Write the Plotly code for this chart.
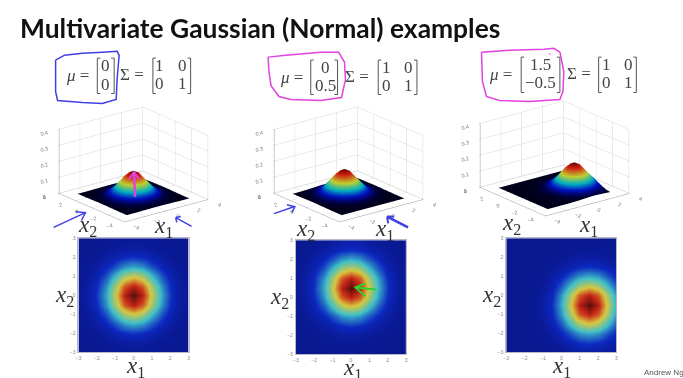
import numpy as np
import plotly.graph_objects as go

W, H = 683, 378
grid_x = [-3, -2.5, -2, -1.5, -1, -0.5, 0, 0.5, 1, 1.5, 2, 2.5, 3]

# densities, in thousandths
panel_a = [
 [0,0,0,1,1,2,2,2,1,1,0,0,0],
 [0,0,1,2,4,6,7,6,4,2,1,0,0],
 [0,1,3,7,13,19,22,19,13,7,3,1,0],
 [1,2,7,17,31,46,52,46,31,17,7,2,1],
 [1,4,13,31,58,85,96,85,58,31,13,4,1],
 [2,6,19,46,85,124,140,124,85,46,19,6,2],
 [2,7,22,52,96,140,159,140,96,52,22,7,2],
 [2,6,19,46,85,124,140,124,85,46,19,6,2],
 [1,4,13,31,58,85,96,85,58,31,13,4,1],
 [1,2,7,17,31,46,52,46,31,17,7,2,1],
 [0,1,3,7,13,19,22,19,13,7,3,1,0],
 [0,0,1,2,4,6,7,6,4,2,1,0,0],
 [0,0,0,1,1,2,2,2,1,1,0,0,0],
]
panel_b = [
 [0,0,0,0,0,0,0,0,0,0,0,0,0],
 [0,0,0,1,1,2,2,2,1,1,0,0,0],
 [0,0,1,2,4,6,7,6,4,2,1,0,0],
 [0,1,3,7,13,19,22,19,13,7,3,1,0],
 [1,2,7,17,31,46,52,46,31,17,7,2,1],
 [1,4,13,31,58,85,96,85,58,31,13,4,1],
 [2,6,19,46,85,124,140,124,85,46,19,6,2],
 [2,7,22,52,96,140,159,140,96,52,22,7,2],
 [2,6,19,46,85,124,140,124,85,46,19,6,2],
 [1,4,13,31,58,85,96,85,58,31,13,4,1],
 [1,2,7,17,31,46,52,46,31,17,7,2,1],
 [0,1,3,7,13,19,22,19,13,7,3,1,0],
 [0,0,1,2,4,6,7,6,4,2,1,0,0],
]
panel_c = [
 [0,0,0,0,0,1,2,4,6,7,6,4,2],
 [0,0,0,0,1,3,7,13,19,22,19,13,7],
 [0,0,0,1,2,7,17,31,46,52,46,31,17],
 [0,0,0,1,4,13,31,58,85,96,85,58,31],
 [0,0,0,2,6,19,46,85,124,140,124,85,46],
 [0,0,0,2,7,22,52,96,140,159,140,96,52],
 [0,0,0,2,6,19,46,85,124,140,124,85,46],
 [0,0,0,1,4,13,31,58,85,96,85,58,31],
 [0,0,0,1,2,7,17,31,46,52,46,31,17],
 [0,0,0,0,1,3,7,13,19,22,19,13,7],
 [0,0,0,0,0,1,2,4,6,7,6,4,2],
 [0,0,0,0,0,0,1,1,2,2,2,1,1],
 [0,0,0,0,0,0,0,0,0,0,0,0,0],
]
panels = [panel_a, panel_b, panel_c]
tick3d = [-4, -2, 0, 2, 4]
tick_z = [0, 0.1, 0.2, 0.3, 0.4]
tick2d = [-3, -2, -1, 0, 1, 2, 3]

jet = [[0, '#0a1890'], [0.12, '#0c28c0'], [0.36, '#40c0c8'], [0.62, '#d8c840'], [0.85, '#c82818'], [1, '#5a0c0c']]
jet_dark = [[0, '#00001a'], [0.06, '#000040'], [0.2, '#0010c0'], [0.38, '#00b0c0'], [0.6, '#c0d030'],
            [0.85, '#d02010'], [1, '#5a0000']]

heat_boxes = [(76, 187, 239, 355), (295, 406, 241, 357), (507, 618, 239, 355)]
scene_boxes = [(31, 231, 84, 244), (248, 448, 84, 244), (455, 655, 78, 238)]

def px(x): return x / W
def py(y): return 1 - y / H

fig = go.Figure()
for i, tbl in enumerate(panels):
    z = np.array(tbl) / 1000
    sc = 'scene' if i == 0 else f'scene{i+1}'
    fig.add_trace(go.Surface(x=grid_x, y=grid_x, z=z, colorscale=jet_dark, cmin=0, cmax=0.159,
                             showscale=False, scene=sc,
                             lighting=dict(ambient=0.95, diffuse=0.1, specular=0.0, roughness=1)))
    fig.add_trace(go.Heatmap(x=grid_x, y=grid_x, z=z, colorscale=jet, zmin=0, zmax=0.159,
                             zsmooth='best', showscale=False,
                             xaxis=f'x{i+1}', yaxis=f'y{i+1}'))

layout = dict(width=W, height=H, margin=dict(l=0, r=0, t=0, b=0), autosize=False,
              paper_bgcolor='white', plot_bgcolor='white', showlegend=False)

ax3 = dict(showbackground=False, gridcolor='#d8d8d8', gridwidth=1, zeroline=False, showline=True,
           linecolor='#999999', linewidth=1, showspikes=False, title=dict(text=''),
           tickfont=dict(size=8, color='#777777', family='Liberation Sans'), ticks='outside',
           ticklen=1, tickcolor='#999999')
for i in range(3):
    a, b, c, d = scene_boxes[i]
    sc = 'scene' if i == 0 else f'scene{i+1}'
    layout[sc] = dict(
        domain=dict(x=[px(a), px(b)], y=[py(d), py(c)]),
        aspectmode='manual', aspectratio=dict(x=1.35, y=1.35, z=0.87),
        camera=dict(eye=dict(x=-0.8, y=-1.02, z=0.47), projection=dict(type='orthographic'),
                    center=dict(x=0, y=0, z=0), up=dict(x=0, y=0, z=1)),
        xaxis=dict(ax3, range=[-4, 4], tickvals=tick3d),
        yaxis=dict(ax3, range=[-4, 4], tickvals=tick3d),
        zaxis=dict(ax3, range=[-0.003, 0.4], tickvals=tick_z),
    )
    a, b, c, d = heat_boxes[i]
    ax2 = dict(tickvals=tick2d, tickfont=dict(size=5, color='#888888', family='Liberation Sans'),
               showgrid=False, zeroline=False, showline=True, linecolor='#b8b8c8', linewidth=1,
               ticks='', range=[-3, 3], mirror=True, ticklabelstandoff=1)
    layout[f'xaxis{i+1}'] = dict(ax2, domain=[px(a), px(b)], anchor=f'y{i+1}')
    layout[f'yaxis{i+1}'] = dict(ax2, domain=[py(d), py(c)], anchor=f'x{i+1}')

# ---------- text
SERIF = 'Liberation Serif'
notes = []
def text(x, y, s, size=17, color='#444444', family=SERIF):
    notes.append(dict(xref='paper', yref='paper', x=px(x), y=py(y), text=s, showarrow=False,
                      xanchor='center', yanchor='middle', font=dict(size=size, color=color, family=family)))

text(259, 25, '<b>Multivariate Gaussian (Normal) examples</b>', size=26.4, color='#111111', family='Lato')

mu_entries = [
    (75, 74, [(103, 64, '0'), (103, 83, '0')]),
    (291, 76, [(325, 66, '0'), (325, 84, '0.5')]),
    (501, 73, [(541, 63, '1.5'), (541, 81, '\u22120.5')]),
]
for x, y, entries in mu_entries:
    text(x, y, '<i>\u03bc</i> =')
    for ex, ey, s in entries:
        text(ex, ey, s)
sigma_entries = [(130, 73, 158, 181, 64, 82), (357, 75, 386, 408, 66, 84), (580, 72, 608, 630, 63, 81)]
for x, y, c1, c2, r1, r2 in sigma_entries:
    text(x, y, '\u03a3 =')
    text(c1, r1, '1'); text(c2, r1, '0'); text(c1, r2, '0'); text(c2, r2, '1')

x_labels = [
    (85, 225, 2), (162, 226, 1), (305, 229, 2), (384, 229, 1), (512, 223, 2), (590, 225, 1),
    (62, 296, 2), (133, 368, 1), (279, 298, 2), (352, 370, 1), (492, 296, 2), (563, 368, 1),
]
for x, y, n in x_labels:
    text(x, y + 2, f'<i>x</i><sub>{n}</sub>', size=23, color='#333333')
text(666, 375, 'Andrew Ng', size=8, color='#555555', family='Liberation Sans')

# ---------- brackets and ink strokes
shapes = []
def path(points, color, width, closed=False):
    d = 'M' + 'L'.join(f'{px(x):.5f},{py(y):.5f}' for x, y in points)
    shapes.append(dict(type='path', xref='paper', yref='paper', path=d,
                       line=dict(color=color, width=width), layer='above'))

brackets = [
    (95, 112, 56, 92), (151, 189, 56, 92),
    (310, 337, 58, 93), (378, 417, 58, 93),
    (522, 561, 55, 91), (600, 638, 55, 91),
]
for l, r, t, b in brackets:
    path([(l + 3, t), (l, t), (l, b), (l + 3, b)], '#555555', 1)
    path([(r - 3, t), (r, t), (r, b), (r - 3, b)], '#555555', 1)

BLUE, PINK, GREEN = '#3f3fe6', '#e243e0', '#2fd12f'
loops = [
    ([(53,58),(62,53),(80,51),(100,50),(115,49),(117,53),(115,77),(114,98),(100,102),(80,101),(55,99),(53,90),(53,70),(53,58)], BLUE),
    ([(267,55),(285,53),(320,50),(338,50),(344,60),(345,78),(341,96),(320,99),(290,98),(278,95),(270,84),(268,70),(267,55)], PINK),
    ([(482,50),(510,48),(545,47),(555,46),(561,50),(565,70),(564,90),(561,98),(530,100),(500,99),(487,95),(483,80),(482,50)], PINK),
]
for pts, col in loops:
    path(pts, col, 1.5)
strokes = [
    ([(51,228),(83,213)], BLUE, 1.5), ([(73,212),(83,213),(79,221)], BLUE, 1.5),
    ([(190,227),(174,218)], BLUE, 1.5), ([(174,218),(179,217)], BLUE, 1.5), ([(174,218),(175,223)], BLUE, 1.5),
    ([(133,197),(132,172)], PINK, 2.5), ([(127,179),(132,172),(137,179)], PINK, 2),
    ([(273,214),(293,207)], BLUE, 1.5), ([(286,205),(294,207),(291,213)], BLUE, 1.5),
    ([(408,228),(387,217)], BLUE, 2.5), ([(387,217),(388,224)], BLUE, 2), ([(387,217),(394,217)], BLUE, 2),
    ([(376,291),(355,289)], GREEN, 2), ([(365,285),(355,289),(365,298)], GREEN, 2),
    ([(550,51),(552,53)], PINK, 1),
]
for pts, col, w in strokes:
    path(pts, col, w)

layout['annotations'] = notes
layout['shapes'] = shapes
fig.update_layout(**layout)
fig.write_html("out.html", config=dict(displayModeBar=False),
               post_script="document.body.style.margin='0';document.documentElement.style.overflow='hidden';")
